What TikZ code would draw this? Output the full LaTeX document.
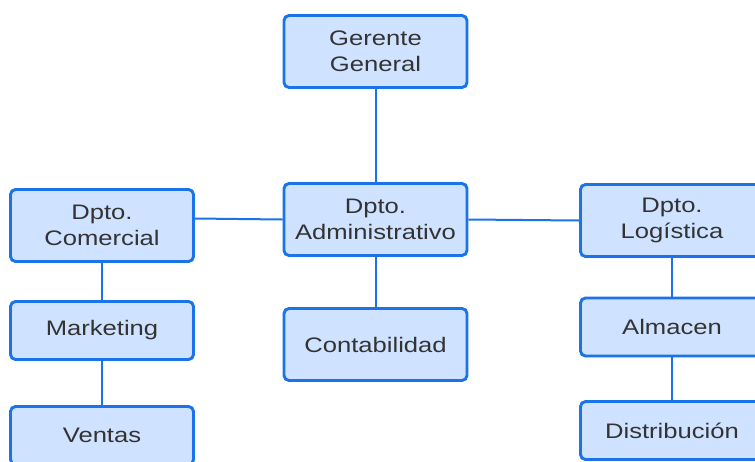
\documentclass[tikz,border=0pt]{standalone}
\usepackage{fontspec}
\setmainfont{Liberation Sans}[FakeStretch=1.22]
\usepackage{tikz}
\usepackage{xcolor}
\definecolor{myblue}{RGB}{26, 115, 232}
\definecolor{myfill}{RGB}{207, 226, 255}
\definecolor{mytext}{RGB}{51, 51, 51}

\begin{document}
\begin{tikzpicture}[x=1pt,y=-1pt,
          box/.style={draw=myblue,fill=myfill,line width=2.9pt,rounded corners=5pt,
                      minimum width=183pt,minimum height=72pt,inner sep=0pt,
                      align=center,text=mytext,font=\fontsize{21}{26}\selectfont},
          small/.style={box,minimum height=58pt},
          link/.style={draw=myblue,line width=2pt}]
        \useasboundingbox (0,0) rectangle (755,461);
        \clip (0,0) rectangle (755,461);
        \node[box](gerente) at (375.5,51.5){Gerente\\General};
        \node[box](admin) at (375.5,219.5){Dpto.\\Administrativo};
        \node[box](conta) at (375.5,344.5){Contabilidad};
        \node[box](comercial) at (102,225.5){Dpto.\\Comercial};
        \node[small](marketing) at (102,330.5){Marketing};
        \node[small](ventas) at (102,435.5){Ventas};
        \node[box](logistica) at (672,220.5){Dpto.\\Logística};
        \node[small](almacen) at (672,327){Almacen};
        \node[small](distrib) at (672,430.5){Distribución};
        \draw[link](gerente)--(admin);
        \draw[link](admin)--(conta);
        \draw[link]([yshift=7pt]comercial.east)--(admin.west);
        \draw[link](admin.east)--(logistica.west);
        \draw[link](comercial)--(marketing);
        \draw[link](marketing)--(ventas);
        \draw[link](logistica)--(almacen);
        \draw[link](almacen)--(distrib);
      \end{tikzpicture}
\end{document}
